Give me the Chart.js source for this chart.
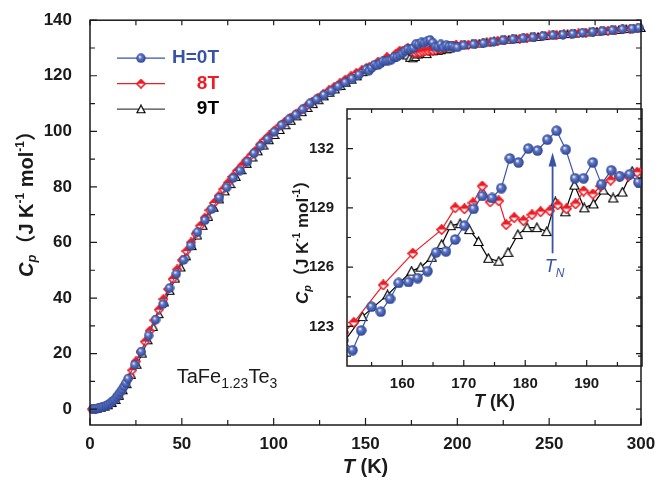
<!DOCTYPE html>
<html>
<head>
<meta charset="utf-8">
<script src="https://cdn.jsdelivr.net/npm/chart.js@4.4.0/dist/chart.umd.min.js"></script>
<style>
  body { margin: 0; background: #fff; }
  #wrap { position: relative; width: 658px; height: 489px; }
  #main { position: absolute; left: 0; top: 0; }
  #inset { position: absolute; left: 280px; top: 95px; }
</style>
</head>
<body>
<div id="wrap">
  <canvas id="main" width="658" height="489"></canvas>
  <canvas id="inset" width="378" height="325"></canvas>
</div>
<script>
// H = 0T
const blueT = [1.5, 2.5, 3.5, 4.5, 5.5, 6.5, 7.5, 8.5, 9.5, 10.5, 11.5, 12.5, 13.5, 14.5, 15.5, 16.5, 17.5, 18.5, 19.5, 20.7,
  24.3, 27.9, 31.9, 35.7, 39.7, 43.3, 47.0, 51.0, 54.8, 58.5, 62.6, 66.2, 70.4, 74.4, 78.0, 81.7, 85.7, 89.3, 92.9, 96.7,
  100.4, 104.3, 108.3, 112.1, 115.8, 119.8, 123.4, 127.4, 131.5, 135.2, 139.0, 142.7, 146.4, 150.4,
  151.9, 153.3, 155.0, 156.5, 158.0, 159.4, 161.0, 162.5, 164.1, 165.5, 167.1, 168.6, 170.1, 171.6, 173.0, 174.6,
  176.1, 177.5, 178.9, 180.5, 182.0, 183.6, 185.1, 186.6, 188.1, 189.5, 191.0, 192.4, 194.0, 195.4, 197.0, 198.4,
  200.0, 203.5, 208.9, 214.3, 219.7, 225.1, 230.5, 235.9, 241.3, 246.7, 252.1, 257.5, 262.9, 268.3, 273.7, 279.1,
  284.5, 289.9, 295.3, 299.0];
const blueCp = [0.0, 0.1, 0.2, 0.3, 0.5, 0.7, 0.9, 1.2, 1.5, 1.9, 2.4, 2.9, 3.5, 4.3, 5.2, 6.1, 7.1, 8.2, 9.4, 11.0,
  16.0, 20.7, 26.5, 32.2, 37.8, 43.6, 48.7, 53.7, 58.8, 63.7, 68.0, 72.0, 76.1, 79.8, 83.2, 85.9, 89.1, 92.1, 94.7, 97.2,
  99.8, 102.2, 104.3, 106.0, 107.9, 110.1, 111.5, 113.1, 114.6, 116.2, 117.6, 119.0, 120.4, 122.3,
  121.8, 122.8, 124.0, 123.75, 124.4, 125.2, 125.25, 125.45, 125.8, 126.75, 126.8, 127.4, 128.1, 128.95, 129.6, 129.5,
  130.0, 131.5, 131.3, 132.0, 131.9, 132.45, 132.9, 131.95, 130.5, 130.5, 131.3, 130.2, 130.9, 130.6, 130.7, 130.3,
  130.2, 130.9, 131.3, 131.7, 132.2, 132.8, 133.1, 133.5, 133.8, 134.3, 134.6, 134.8, 135.1, 135.5, 135.8, 136.1,
  136.4, 136.7, 137.0, 137.3];

// 8T
const redT = [1.0, 3.0, 5.0, 7.0, 9.0, 11.0, 13.0, 15.0, 17.0, 19.0, 21.0, 23.0, 25.0, 27.5, 30.0, 32.5, 35.0, 37.5, 40.0,
  42.5, 45.0, 47.5, 50.0, 52.5, 55.0, 57.5, 60.0, 62.5, 65.0, 67.5, 70.0, 72.5, 75.0, 77.5, 80.0, 82.5, 85.0, 87.5, 90.0,
  92.5, 95.0, 97.5, 100.0, 103.0, 106.0, 109.0, 112.0, 115.0, 118.0, 121.0, 124.0, 127.0, 130.0, 133.0, 136.0, 139.0,
  142.0, 145.0, 148.0, 150.5,
  152.1, 156.9, 161.7, 166.4, 168.6, 170.1, 171.5, 173.0, 174.3, 175.7, 176.9, 178.2, 179.7, 181.1, 182.5, 184.0,
  185.3, 186.7, 188.2, 189.5, 191.0, 192.3, 193.9, 195.3, 196.8, 198.2, 199.3,
  202, 206, 210, 214, 218, 222, 226, 230, 234, 238, 242, 246, 250, 254, 258, 262, 266, 270, 274, 278, 282, 286, 290, 294, 298];
const redCp = [0.0, 0.1, 0.4, 0.8, 1.3, 2.1, 3.2, 4.7, 6.5, 8.6, 11.2, 14.0, 17.2, 20.6, 24.3, 28.2, 32.0, 35.8, 39.6,
  43.2, 46.8, 50.3, 53.6, 56.9, 60.0, 63.1, 66.0, 68.9, 71.6, 74.2, 76.7, 79.1, 81.4, 83.6, 85.7, 87.6, 89.5, 91.3, 93.0,
  95.2, 96.9, 98.5, 100.0, 101.8, 103.4, 104.9, 106.3, 107.7, 109.2, 110.7, 112.0, 113.4, 114.7, 116.0, 117.3, 118.6,
  119.8, 121.0, 122.0, 122.7,
  123.2, 125.1, 126.7, 127.9, 129.0, 128.95, 129.25, 130.1, 129.3, 129.35, 128.15, 128.5, 128.35, 128.65, 128.8, 128.85,
  129.15, 128.95, 129.2, 129.85, 129.7, 130.1, 130.4, 130.6, 130.6, 130.8, 130.95,
  131.0, 131.2, 131.5, 131.8, 132.2, 132.6, 132.9, 133.1, 133.4, 133.7, 133.9, 134.2, 134.5, 134.7, 134.9, 135.1,
  135.3, 135.5, 135.8, 136.0, 136.2, 136.4, 136.7, 136.9, 137.1];

// 9T
const blackT = [2.0, 4.0, 6.0, 8.0, 10.0, 12.0, 14.0, 16.0, 18.0, 20.0, 22.5, 25.5, 28.5, 31.5, 34.5, 37.5, 40.5, 43.5,
  46.5, 49.5, 52.5, 55.5, 58.5, 61.5, 64.5, 67.5, 70.5, 73.5, 76.5, 79.5, 82.5, 85.5, 88.5, 91.5, 94.5, 97.5, 100.5,
  103.5, 106.5, 109.5, 112.5, 115.5, 118.5, 121.5, 124.5, 127.5, 130.5, 133.5, 136.5, 139.5, 142.5, 145.5, 148.5, 150.0,
  153.5, 157.6, 161.5, 163.0, 164.8, 166.4, 167.9, 169.4, 170.9, 172.4, 174.0, 175.7, 177.2, 178.8, 180.3, 181.9,
  183.5, 184.9, 186.5, 188.0, 189.6, 191.1, 192.7, 194.3, 195.8, 197.4, 199.5,
  204, 208, 212, 216, 220, 224, 228, 232, 236, 240, 244, 248, 252, 256, 260, 264, 268, 272, 276, 280, 284, 288, 292, 296, 300];
const blackCp = [0.0, 0.2, 0.5, 0.9, 1.4, 2.2, 3.3, 4.8, 6.8, 9.0, 12.3, 16.0, 20.0, 24.8, 29.6, 34.2, 38.4, 42.6,
  47.0, 51.0, 55.0, 58.7, 62.5, 66.0, 69.2, 72.5, 75.5, 78.4, 81.0, 83.6, 86.0, 88.3, 90.6, 92.8, 94.9, 96.8, 98.7,
  100.5, 102.2, 103.8, 105.4, 106.9, 108.4, 109.8, 111.2, 112.6, 113.9, 115.1, 116.3, 117.5, 118.6, 119.8, 121.3, 122.0,
  123.5, 124.6, 125.8, 126.0, 126.5, 127.15, 128.1, 128.2, 127.9, 127.3, 126.45, 126.3, 126.75, 127.65, 128.0, 128.0,
  127.8, 129.3, 128.8, 130.15, 129.0, 129.2, 129.9, 129.5, 129.8, 130.85, 131.0,
  131.1, 131.4, 131.6, 132.0, 132.4, 132.7, 133.0, 133.2, 133.5, 133.8, 134.0, 134.3, 134.6, 134.8, 135.0, 135.2,
  135.4, 135.6, 135.9, 136.1, 136.3, 136.5, 136.8, 137.0, 137.2];

const legendLabels = ['H=0T', '8T', '9T'];

const xTicks = [0, 50, 100, 150, 200, 250, 300];
const xMinor = [25, 75, 125, 175, 225, 275];
const yTicks = [0, 20, 40, 60, 80, 100, 120, 140];
const yMinor = [10, 30, 50, 70, 90, 110, 130];

const insetXTicks = [160, 170, 180, 190];
const insetXMinor = [155, 165, 175, 185, 195];
const insetYTicks = [123, 126, 129, 132];
const insetYMinor = [121.5, 124.5, 127.5, 130.5, 133.5];

// arrow marking T_N in the inset
const tnT = 184.45;
const tnFrom = 126.7;
const tnTo = 131.8;

const F = "'Liberation Sans', Arial, 'Noto Sans CJK SC', sans-serif";
const BLUE = '#3a54a5';
const RED = '#ed1c24';
const INK = '#1a1a1a';

function sphere(d) {
  const c = document.createElement('canvas');
  c.width = c.height = d;
  const g = c.getContext('2d');
  const r = d / 2;
  const grd = g.createRadialGradient(r * 0.75, r * 0.7, r * 0.08, r, r, r);
  grd.addColorStop(0, '#f2f4fb');
  grd.addColorStop(0.3, '#6379c6');
  grd.addColorStop(0.75, '#3a54a5');
  grd.addColorStop(1, '#293d86');
  g.fillStyle = grd;
  g.beginPath();
  g.arc(r, r, r - 0.3, 0, Math.PI * 2);
  g.fill();
  return c;
}

function halfDiamond(d) {
  const c = document.createElement('canvas');
  c.width = c.height = d;
  const g = c.getContext('2d');
  const r = d / 2, m = 0.9;
  g.beginPath();
  g.moveTo(r, m); g.lineTo(d - m, r); g.lineTo(r, d - m); g.lineTo(m, r); g.closePath();
  g.fillStyle = '#fff';
  g.fill();
  g.beginPath();
  g.moveTo(r, m); g.lineTo(d - m, r); g.lineTo(m, r); g.closePath();
  g.fillStyle = RED;
  g.fill();
  g.beginPath();
  g.moveTo(r, m); g.lineTo(d - m, r); g.lineTo(r, d - m); g.lineTo(m, r); g.closePath();
  g.strokeStyle = RED;
  g.lineWidth = 1.6;
  g.stroke();
  return c;
}

function openTri(d) {
  const c = document.createElement('canvas');
  c.width = c.height = d;
  const g = c.getContext('2d');
  g.beginPath();
  g.moveTo(d / 2, 1); g.lineTo(d - 1, d - 1.5); g.lineTo(1, d - 1.5); g.closePath();
  g.fillStyle = '#fff';
  g.fill();
  g.strokeStyle = '#000';
  g.lineWidth = 1.2;
  g.stroke();
  return c;
}

const mainMarks = [sphere(10), halfDiamond(10), openTri(10)];
const insetMarks = [sphere(11), halfDiamond(11), openTri(11)];

function toXY(xs, ys) {
  return xs.map((v, i) => ({ x: v, y: ys[i] }));
}

function series(xs, ys, color, mark, lw, clip) {
  return {
    data: toXY(xs, ys),
    showLine: true,
    borderColor: color,
    borderWidth: lw,
    pointStyle: mark,
    pointRadius: 5,
    pointHoverRadius: 5,
    clip: clip
  };
}

function drawRich(ctx, parts, x, y, angle) {
  ctx.save();
  ctx.translate(x, y);
  ctx.rotate(angle);
  ctx.textBaseline = 'middle';
  ctx.textAlign = 'left';
  let w = 0;
  parts.forEach(p => { ctx.font = p[1]; w += ctx.measureText(p[0]).width; });
  let cx = -w / 2;
  parts.forEach(p => {
    ctx.font = p[1];
    ctx.fillText(p[0], cx, p[2]);
    cx += ctx.measureText(p[0]).width;
  });
  ctx.restore();
}

function cpTitle(s) {
  const sub = Math.round(s * 0.65), sup = Math.round(s * 0.6);
  return [
    ['C', `italic bold ${s}px ${F}`, 0],
    ['p', `italic bold ${sub}px ${F}`, s * 0.27],
    ['（J K', `bold ${s}px ${F}`, 0],
    ['-1', `bold ${sup}px ${F}`, -s * 0.33],
    [' mol', `bold ${s}px ${F}`, 0],
    ['-1', `bold ${sup}px ${F}`, -s * 0.33],
    ['）', `bold ${s}px ${F}`, 0]
  ];
}

// box with inward ticks on all four sides
const frame = {
  id: 'frame',
  afterDatasetsDraw(chart, args, o) {
    const { ctx, chartArea: a } = chart;
    const { x, y } = chart.scales;
    ctx.save();
    ctx.strokeStyle = INK;
    ctx.lineWidth = 1.5;
    ctx.strokeRect(a.left, a.top, a.right - a.left, a.bottom - a.top);
    ctx.lineWidth = 1.2;
    ctx.beginPath();
    o.xMajor.concat(o.xMinor).forEach((v, i) => {
      const L = i < o.xMajor.length ? o.major : o.minor;
      const px = x.getPixelForValue(v);
      ctx.moveTo(px, a.bottom); ctx.lineTo(px, a.bottom - L);
      ctx.moveTo(px, a.top); ctx.lineTo(px, a.top + o.mirror);
    });
    o.yMajor.concat(o.yMinor).forEach((v, i) => {
      const L = i < o.yMajor.length ? o.major : o.minor;
      const py = y.getPixelForValue(v);
      ctx.moveTo(a.left, py); ctx.lineTo(a.left + L, py);
      ctx.moveTo(a.right, py); ctx.lineTo(a.right - o.mirror, py);
    });
    ctx.stroke();
    ctx.restore();
  }
};

const mainDecor = {
  id: 'mainDecor',
  afterDraw(chart) {
    const { ctx, chartArea: a } = chart;
    ctx.save();
    // legend
    const colors = [BLUE, RED, '#000'];
    const lines = [BLUE, RED, '#444'];
    legendLabels.forEach((lab, i) => {
      const yy = a.top + 38 + i * 25.5;
      ctx.strokeStyle = lines[i];
      ctx.lineWidth = 1.2;
      ctx.beginPath();
      ctx.moveTo(a.left + 27, yy); ctx.lineTo(a.left + 75, yy);
      ctx.stroke();
      const m = mainMarks[i];
      ctx.drawImage(m, a.left + 51 - m.width / 2, yy - m.height / 2);
      ctx.fillStyle = colors[i];
      ctx.font = `bold 19px ${F}`;
      ctx.textAlign = 'right';
      ctx.textBaseline = 'middle';
      ctx.fillText(lab, a.left + 129, yy);
    });
    // compound name
    ctx.fillStyle = INK;
    drawRich(ctx, [
      ['TaFe', `20px ${F}`, 0],
      ['1.23', `14px ${F}`, 7],
      ['Te', `20px ${F}`, 0],
      ['3', `14px ${F}`, 7]
    ], a.left + 83 + 54, a.bottom - 48, 0);
    // axis titles
    drawRich(ctx, [['T', `italic bold 20px ${F}`, 0], [' (K)', `bold 20px ${F}`, 0]],
      (a.left + a.right) / 2, a.bottom + 42, 0);
    drawRich(ctx, cpTitle(20), 27, 199, -Math.PI / 2);
    ctx.restore();
  }
};

const insetDecor = {
  id: 'insetDecor',
  afterDraw(chart) {
    const { ctx, chartArea: a } = chart;
    const { x, y } = chart.scales;
    ctx.save();
    // T_N arrow
    const ax = x.getPixelForValue(tnT);
    const y1 = y.getPixelForValue(tnFrom);
    const y2 = y.getPixelForValue(tnTo);
    ctx.strokeStyle = BLUE;
    ctx.fillStyle = BLUE;
    ctx.lineWidth = 1.8;
    ctx.beginPath();
    ctx.moveTo(ax, y1); ctx.lineTo(ax, y2 + 10);
    ctx.stroke();
    ctx.beginPath();
    ctx.moveTo(ax, y2); ctx.lineTo(ax + 4, y2 + 14); ctx.lineTo(ax - 4, y2 + 14); ctx.closePath();
    ctx.fill();
    drawRich(ctx, [['T', `italic 18px ${F}`, 0], ['N', `italic 12px ${F}`, 6]], ax + 2, y1 + 14, 0);
    // axis titles
    ctx.fillStyle = INK;
    drawRich(ctx, [['T', `italic bold 18px ${F}`, 0], [' (K)', `bold 18px ${F}`, 0]],
      (a.left + a.right) / 2, a.bottom + 36, 0);
    drawRich(ctx, cpTitle(17), a.left - 44, a.top + 129, -Math.PI / 2);
    ctx.restore();
  }
};

const tickFont = (s) => ({ family: "'Liberation Sans', Arial, sans-serif", size: s, weight: 'bold' });

new Chart(document.getElementById('main'), {
  type: 'scatter',
  data: {
    datasets: [
      series(blueT, blueCp, BLUE, mainMarks[0], 1, 8),
      series(redT, redCp, RED, mainMarks[1], 1, 8),
      series(blackT, blackCp, '#000', mainMarks[2], 1, 8)
    ]
  },
  options: {
    responsive: false,
    animation: false,
    devicePixelRatio: 1,
    events: [],
    layout: { padding: { left: 0, top: 14, right: 17, bottom: 0 } },
    plugins: {
      legend: { display: false },
      tooltip: { enabled: false },
      frame: { xMajor: xTicks, xMinor: xMinor, yMajor: yTicks, yMinor: yMinor, major: 7, minor: 5, mirror: 5 }
    },
    scales: {
      x: {
        type: 'linear', min: 0, max: 300,
        afterBuildTicks: s => { s.ticks = xTicks.map(v => ({ value: v })); },
        afterFit: s => { s.height = 64; },
        grid: { display: false }, border: { display: false },
        ticks: { font: tickFont(17), color: INK, padding: 1, maxRotation: 0, autoSkip: false }
      },
      y: {
        type: 'linear', min: -5.7, max: 140,
        afterBuildTicks: s => { s.ticks = yTicks.map(v => ({ value: v })); },
        afterFit: s => { s.width = 90; },
        grid: { display: false }, border: { display: false },
        ticks: { font: tickFont(17), color: INK, padding: 10, autoSkip: false }
      }
    }
  },
  plugins: [frame, mainDecor]
});

new Chart(document.getElementById('inset'), {
  type: 'scatter',
  data: {
    datasets: [
      series(blueT, blueCp, BLUE, insetMarks[0], 1.2),
      series(redT, redCp, RED, insetMarks[1], 1.2),
      series(blackT, blackCp, '#000', insetMarks[2], 1.2)
    ]
  },
  options: {
    responsive: false,
    animation: false,
    devicePixelRatio: 1,
    events: [],
    layout: { padding: { left: 0, top: 10, right: 16, bottom: 0 } },
    plugins: {
      legend: { display: false },
      tooltip: { enabled: false },
      frame: { xMajor: insetXTicks, xMinor: insetXMinor, yMajor: insetYTicks, yMinor: insetYMinor, major: 6, minor: 4, mirror: 4 }
    },
    scales: {
      x: {
        type: 'linear', min: 151, max: 199,
        afterBuildTicks: s => { s.ticks = insetXTicks.map(v => ({ value: v })); },
        afterFit: s => { s.height = 54; },
        grid: { display: false }, border: { display: false },
        ticks: { font: tickFont(15), color: INK, padding: 1, maxRotation: 0, autoSkip: false }
      },
      y: {
        type: 'linear', min: 121, max: 134,
        afterBuildTicks: s => { s.ticks = insetYTicks.map(v => ({ value: v })); },
        afterFit: s => { s.width = 67; },
        grid: { display: false }, border: { display: false },
        ticks: { font: tickFont(15), color: INK, padding: 5, autoSkip: false }
      }
    }
  },
  plugins: [frame, insetDecor]
});
</script>
</body>
</html>
